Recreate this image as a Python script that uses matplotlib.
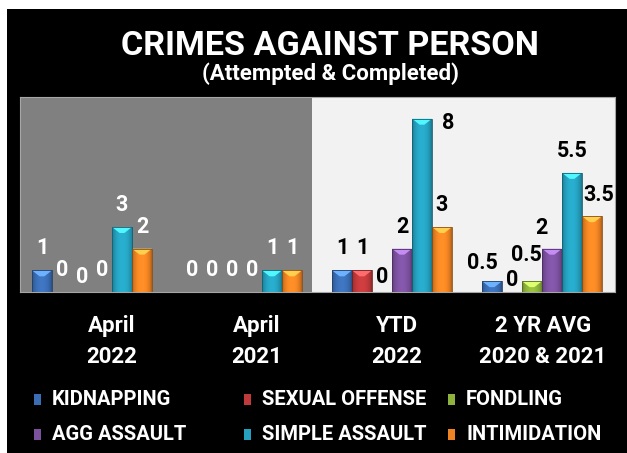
import numpy as np
import matplotlib
matplotlib.use("Agg")
import matplotlib.pyplot as plt
from matplotlib.patches import Rectangle, Polygon
from matplotlib.colors import to_rgb

plt.rcParams['font.family'] = ['Roboto', 'DejaVu Sans']

# ---------------- data ----------------
categories = ["April\n2022", "April\n2021", "YTD\n2022", "2 YR AVG\n2020 & 2021"]
series_names = ["KIDNAPPING", "SEXUAL OFFENSE", "FONDLING",
                "AGG ASSAULT", "SIMPLE ASSAULT", "INTIMIDATION"]
kidnapping = [1, 0, 1, 0.5]
sexual_offense = [0, 0, 1, 0]
fondling = [0, 0, 0, 0.5]
agg_assault = [0, 0, 2, 2]
simple_assault = [3, 1, 8, 5.5]
intimidation = [2, 1, 3, 3.5]
series_values = [kidnapping, sexual_offense, fondling,
                 agg_assault, simple_assault, intimidation]
colors = ["#3A6DB3", "#C0393B", "#8DB33C", "#7B519E", "#25A0BE", "#EE8323"]

# label nudges in pixels (dx, dy above bar top); default (0, 22)
label_nudge = {(0, 2): (0, 15), (2, 2): (0, 15), (3, 1): (0, 12),
               (2, 4): (26, -4), (3, 0): (-10, 18), (3, 2): (-6, 26),
               (3, 3): (-11, 21), (3, 5): (7, 21)}

W, H = 627, 453
fig = plt.figure(figsize=(W / 100, H / 100), dpi=100)
fig.patch.set_facecolor("white")

def fx(px):
    return px / W

def fy(py):
    return 1 - py / H

# black card (white margin at top and left)
fig.patches.append(Rectangle((fx(7), 0), 1 - fx(7), fy(9), transform=fig.transFigure,
                             facecolor="black", edgecolor="none", zorder=-10))

ax = fig.add_axes([fx(20), fy(292), fx(615) - fx(20), fy(97) - fy(292)])
ax.set_zorder(1)
ax.set_facecolor("#F2F2F2")
ax.add_patch(Rectangle((0, 0), (312 - 20) / 595, 1, transform=ax.transAxes,
                       facecolor="#808080", edgecolor="none", zorder=0))
for s in ax.spines.values():
    s.set_color("#A6A6A6")
    s.set_linewidth(0.8)

n = len(series_values)
bw = 20 / 150
x = np.arange(len(categories))
px_per_unit_y = 195 / 9.0

for i, (vals, col) in enumerate(zip(series_values, colors)):
    xs = x + (i - (n - 1) / 2) * bw
    bars = ax.bar(xs, vals, width=bw, color=col, edgecolor="none", zorder=2)
    base = np.array(to_rgb(col))
    t = np.linspace(0, 1, 40)
    shade = 0.72 + 0.38 * np.sin(np.pi * t) ** 0.6
    grad = np.clip(base[None, :] * shade[:, None], 0, 1)[None, :, :]
    for g, (b, v) in enumerate(zip(bars, vals)):
        x0, w, h = b.get_x(), b.get_width(), b.get_height()
        if h > 0:
            im = ax.imshow(grad, extent=[x0, x0 + w, 0, h], aspect="auto",
                           interpolation="bilinear", zorder=3)
            im.set_clip_path(b)
            d = min(6 / px_per_unit_y, h * 0.55)
            light = np.clip(base * 1.35 + 0.12, 0, 1)
            ax.add_patch(Polygon([(x0, h), (x0 + w, h), (x0 + 0.62 * w, h - d),
                                  (x0 + 0.38 * w, h - d)], closed=True,
                                 facecolor=light, edgecolor="none", zorder=4))
            ax.add_patch(Rectangle((x0, 0), w, h, facecolor="none",
                                   edgecolor=base * 0.6, linewidth=0.6, zorder=5))
        dx, dy = label_nudge.get((g, i), (0, 22))
        lab = f"{v:g}"
        ax.annotate(lab, (b.get_x() + w / 2, h), xytext=(dx * 0.72, dy * 0.72),
                    textcoords="offset points", ha="center", va="center",
                    fontsize=15.5, fontweight="bold",
                    color="white" if g < 2 else "black", zorder=6,
                    annotation_clip=False)

ax.set_xlim(-0.48, -0.48 + 595 / 150)
ax.set_ylim(0, 9)
ax.set_xticks([])
ax.set_yticks([])

# category labels
cat_x = [112, 257, 397, 543]
for cx, c in zip(cat_x, categories):
    l1, l2 = c.split("\n")
    fig.text(fx(cx), fy(332), l1, ha="center", va="baseline", color="white",
             fontsize=16, fontweight="bold")
    fig.text(fx(cx), fy(363), l2, ha="center", va="baseline", color="white",
             fontsize=16, fontweight="bold")

# title
fig.text(fx(330), fy(55), "CRIMES AGAINST PERSON", ha="center", va="baseline",
         color="white", fontsize=24.6, fontweight="bold")
fig.text(fx(330), fy(80), "(Attempted & Completed)", ha="center", va="baseline",
         color="white", fontsize=16, fontweight="bold")

# legend (manual, 3 columns x 2 rows)
leg_cols = [34, 244, 448]
leg_rows = [405, 440]
order = [(0, 0, 0), (1, 1, 0), (2, 2, 0), (3, 0, 1), (4, 1, 1), (5, 2, 1)]
for si, c, r in order:
    mx, by = leg_cols[c], leg_rows[r]
    fig.patches.append(Rectangle((fx(mx), fy(by)), 7 / W, 11 / H,
                                 transform=fig.transFigure, facecolor=colors[si],
                                 edgecolor="none", zorder=3))
    fig.text(fx(mx + 18), fy(by), series_names[si], ha="left", va="baseline",
             color="white", fontsize=14.5, fontweight="bold")

fig.savefig("out.png", dpi=100, facecolor=fig.get_facecolor())
